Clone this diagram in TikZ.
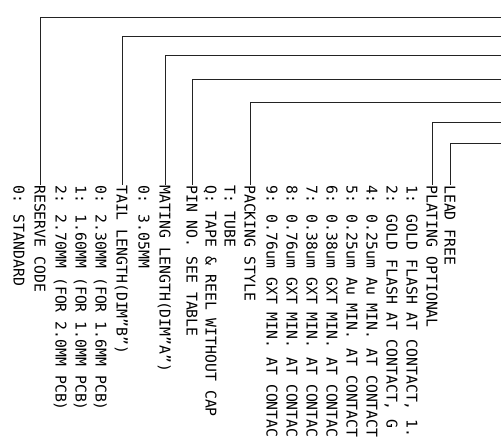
\documentclass[tikz,border=0pt]{standalone}
\usepackage{fontspec}
\newfontfamily\cadfont{DejaVu Sans Mono}
\definecolor{trazo}{RGB}{35,35,35}
\usetikzlibrary{positioning}
\tikzstyle{leader}  =[line width=0.8pt, draw=trazo]
\tikzstyle{callout}=[rotate=-90, anchor=west, inner sep=0pt,
                    text height=10.8pt, text depth=0pt,
                    font=\cadfont\fontsize{14.8}{18}\selectfont]

\begin{document}
\begin{tikzpicture}[x=1pt,y=-1pt]
    \useasboundingbox (0,0) rectangle (501,439);

    % plating
    \draw (450,185) node (lead) [callout] {LEAD FREE};
    \draw (432,185) node (plat) [callout] {PLATING OPTIONAL};
    \draw (412,185) node (p1) [callout] {1: GOLD FLASH AT CONTACT, 1.};
    \draw (392,185) node (p2) [callout] {2: GOLD FLASH AT CONTACT, G};
    \draw (372,185) node (p4) [callout] {4: 0.25um Au MIN. AT CONTACT};
    \draw (352,185) node (p5) [callout] {5: 0.25um Au MIN. AT CONTACT};
    \draw (332,185) node (p6) [callout] {6: 0.38um GXT MIN. AT CONTAC};
    \draw (312,185) node (p7) [callout] {7: 0.38um GXT MIN. AT CONTAC};
    \draw (292,185) node (p8) [callout] {8: 0.76um GXT MIN. AT CONTAC};
    \draw (272,185) node (p9) [callout] {9: 0.76um GXT MIN. AT CONTAC};

    % packing, pin
    \draw (250,185) node (pack) [callout] {PACKING STYLE};
    \draw (230,185) node (tube) [callout] {T: TUBE};
    \draw (211,185) node (reel) [callout] {Q: TAPE \& REEL WITHOUT CAP};
    \draw (192,185) node (pin) [callout] {PIN NO. SEE TABLE};

    % lengths
    \draw (165,185) node (mat) [callout] {MATING LENGTH(DIM”A”)};
    \draw (144,185) node (m0) [callout] {0: 3.05MM};
    \draw (122,185) node (tail) [callout] {TAIL LENGTH(DIM”B”)};
    \draw (101,185) node (tl0) [callout] {0: 2.30MM (FOR 1.6MM PCB)};
    \draw (81,185) node (tl1) [callout] {1: 1.60MM (FOR 1.0MM PCB)};
    \draw (61,185) node (tl2) [callout] {2: 2.70MM (FOR 2.0MM PCB)};

    % reserve
    \draw (40,185) node (resv) [callout] {RESERVE CODE};
    \draw (19,185) node (r0) [callout] {0: STANDARD};

    \foreach \n/\y in {resv/17,tail/36,mat/55,pin/79,pack/102,plat/122,lead/143} {
        \coordinate (e\n) at (501,\y);
        \draw [leader] (e\n) -| (\n.west);
    }
\end{tikzpicture}
\end{document}
